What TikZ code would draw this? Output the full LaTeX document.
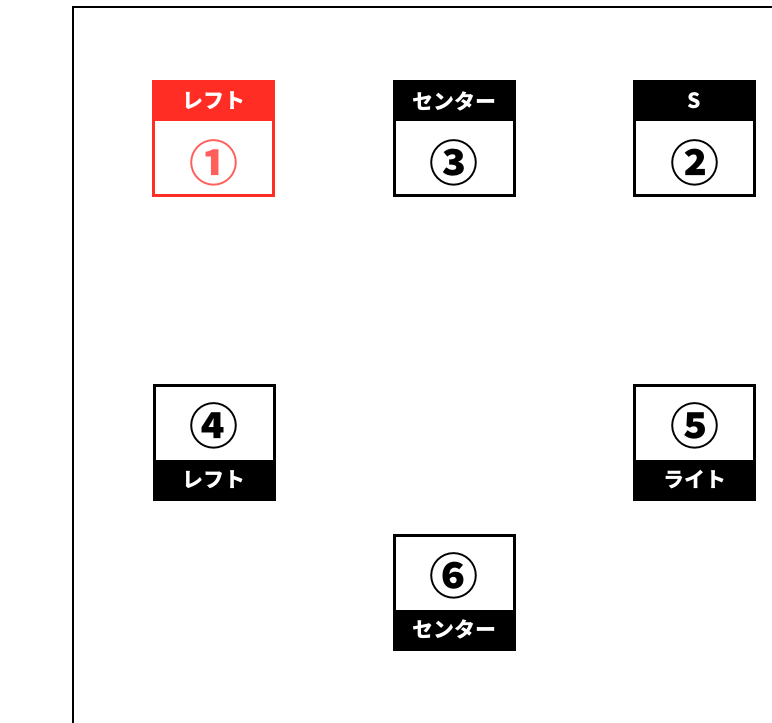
\documentclass[tikz,border=0pt]{standalone}
\usepackage{fontspec}
\newfontfamily\jp{Noto Sans CJK JP}
\definecolor{redh}{RGB}{255,45,35}
\definecolor{rednum}{RGB}{255,95,90}
\begin{document}
\begin{tikzpicture}[x=1pt,y=-1pt,
  frame/.style={line width=2.6pt},
  posbox/.style={rectangle,draw=black,line width=2pt,minimum width=119pt,minimum height=113pt,inner sep=0pt},
  hdr/.style={rectangle,fill=black,text=white,minimum width=121pt,minimum height=39pt,inner sep=0pt,font=\jp\bfseries\fontsize{21}{21}\selectfont},
  num/.style={inner sep=0pt,font=\jp\bfseries\fontsize{49}{49}\selectfont},
  redbox/.style={draw=redh},
  redhdr/.style={fill=redh},
  rednumber/.style={text=rednum}]
\useasboundingbox (0,0) rectangle (772,723);
\coordinate (fb) at (73,723);
\coordinate (fc) at (73,7);
\coordinate (fr) at (772,7);
\draw[frame] (fb) -- (fc) -- (fr);
% box 1
\node[posbox,redbox] (b1) at (213.5,138.5) {};
\node[hdr,redhdr] (h1) at (213.5,101) {レフト};
\node[num,rednumber] (n1) at (213.5,163) {①};
\draw[redh,line width=2pt] (b1.north west) rectangle (b1.south east);
% box 3
\node[posbox] (b3) at (454,138.5) {};
\node[hdr] (h3) at (454,101) {センター};
\node[num] (n3) at (454,163) {③};
\draw[line width=2pt] (b3.north west) rectangle (b3.south east);
% box 2
\node[posbox] (b2) at (694.5,138.5) {};
\node[hdr] (h2) at (694.5,101) {S};
\node[num] (n2) at (694.5,163) {②};
\draw[line width=2pt] (b2.north west) rectangle (b2.south east);
% box 4
\node[posbox] (b4) at (214,442) {};
\node[hdr] (h4) at (214,479.5) {レフト};
\node[num] (n4) at (214,426) {④};
\draw[line width=2pt] (b4.north west) rectangle (b4.south east);
% box 5
\node[posbox] (b5) at (694.5,442) {};
\node[hdr] (h5) at (694.5,479.5) {ライト};
\node[num] (n5) at (694.5,426) {⑤};
\draw[line width=2pt] (b5.north west) rectangle (b5.south east);
% box 6
\node[posbox] (b6) at (454,592) {};
\node[hdr] (h6) at (454,629.5) {センター};
\node[num] (n6) at (454,576) {⑥};
\draw[line width=2pt] (b6.north west) rectangle (b6.south east);
\end{tikzpicture}
\end{document}
